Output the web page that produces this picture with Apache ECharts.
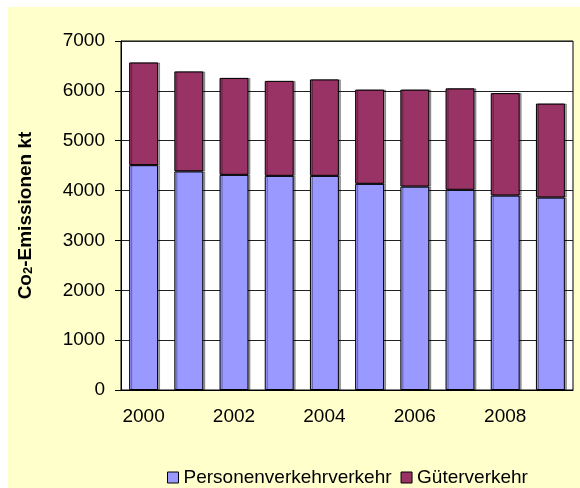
<!DOCTYPE html>
<html>
<head>
<meta charset="utf-8">
<script src="https://cdn.jsdelivr.net/npm/echarts@6/dist/echarts.min.js"></script>
<style>
  html, body { margin: 0; padding: 0; background: #fff; }
  #main { position: absolute; left: 8px; top: 7px; width: 572px; height: 481px; }
</style>
</head>
<body>
<div id="main"></div>
<script>
// years on the category axis
var years = ['2000', '2001', '2002', '2003', '2004', '2005', '2006', '2007', '2008', '2009'];
// kt CO2
var personen = [4510, 4385, 4315, 4295, 4295, 4135, 4080, 4015, 3900, 3860];
var gueter = [2060, 2005, 1945, 1905, 1935, 1890, 1945, 2035, 2055, 1885];
var yTicks = [0, 1000, 2000, 3000, 4000, 5000, 6000, 7000];

var font = 'Liberation Sans, Arial, sans-serif';

var option = {
    backgroundColor: '#FFFFCC',
    animation: false,
    textStyle: { fontFamily: font, color: '#000' },
    grid: {
        left: 113,
        top: 34,
        width: 452,
        height: 349,
        show: true,
        backgroundColor: '#fff',
        borderColor: '#000',
        borderWidth: 1
    },
    legend: {
        left: 154,
        top: 456,
        itemWidth: 11,
        itemHeight: 11,
        itemGap: 9,
        icon: 'rect',
        itemStyle: { borderColor: '#000', borderWidth: 1 },
        textStyle: { fontFamily: font, fontSize: 19, color: '#000' }
    },
    xAxis: {
        type: 'category',
        data: years,
        axisLine: { lineStyle: { color: '#000', width: 1 } },
        axisTick: { show: false },
        axisLabel: { interval: 1, fontSize: 19, color: '#000', margin: 17, fontFamily: font }
    },
    yAxis: {
        type: 'value',
        min: yTicks[0],
        max: yTicks[yTicks.length - 1],
        interval: 1000,
        name: '{a|Co}{s|2}{a|-Emissionen kt}',
        nameLocation: 'middle',
        nameGap: 86,
        nameTextStyle: {
            rich: {
                a: { fontSize: 19, fontWeight: 'bold', fontFamily: font, color: '#000' },
                s: { fontSize: 13, fontWeight: 'bold', fontFamily: font, color: '#000', verticalAlign: 'bottom' }
            }
        },
        axisLine: { show: true, lineStyle: { color: '#000', width: 1 } },
        axisTick: { show: true, length: 6, lineStyle: { color: '#000' } },
        axisLabel: {
            fontSize: 19, color: '#000', margin: 16, fontFamily: font,
            formatter: function (v) { return String(v); }
        },
        splitLine: { lineStyle: { color: '#222', width: 1 } }
    },
    series: [{
        name: 'Personenverkehrverkehr',
        type: 'bar',
        stack: 'co2',
        barWidth: '64%',
        data: personen,
        itemStyle: {
            color: '#9999FF',
            borderColor: '#000',
            borderWidth: 1,
            shadowColor: 'rgba(0,0,0,0.35)',
            shadowOffsetX: 2,
            shadowOffsetY: 0
        }
    }, {
        name: 'Güterverkehr',
        type: 'bar',
        stack: 'co2',
        barWidth: '64%',
        data: gueter,
        itemStyle: {
            color: '#993366',
            borderColor: '#000',
            borderWidth: 1,
            shadowColor: 'rgba(0,0,0,0.35)',
            shadowOffsetX: 2,
            shadowOffsetY: 0
        }
    }]
};

var myChart = echarts.init(document.getElementById('main'));
myChart.setOption(option);
</script>
</body>
</html>
